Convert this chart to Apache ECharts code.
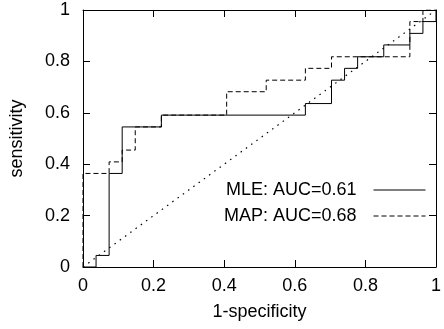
<!DOCTYPE html>
<html>
<head>
<meta charset="utf-8">
<script src="https://cdn.jsdelivr.net/npm/echarts@6/dist/echarts.min.js"></script>
<style>html,body{margin:0;padding:0;background:#fff}#c{width:444px;height:329px}</style>
</head>
<body>
<div id="c"></div>
<script>
var xTicks = [0, 0.2, 0.4, 0.6, 0.8, 1];
var yTicks = [0, 0.2, 0.4, 0.6, 0.8, 1];
var mleName = 'MLE: AUC=0.61';
var mapName = 'MAP: AUC=0.68';
var mleX = [0, 0.037, 0.037, 0.074, 0.074, 0.111, 0.111, 0.222, 0.222, 0.630, 0.630, 0.704, 0.704, 0.741, 0.741, 0.778, 0.778, 0.852, 0.852, 0.926, 0.926, 0.963, 0.963, 1, 1];
var mleY = [0, 0, 0.045, 0.045, 0.364, 0.364, 0.545, 0.545, 0.591, 0.591, 0.636, 0.636, 0.727, 0.727, 0.773, 0.773, 0.818, 0.818, 0.864, 0.864, 0.909, 0.909, 0.955, 0.955, 1];
var mapX = [0, 0, 0.074, 0.074, 0.111, 0.111, 0.148, 0.148, 0.222, 0.222, 0.407, 0.407, 0.519, 0.519, 0.630, 0.630, 0.704, 0.704, 0.926, 0.926, 0.963, 0.963, 1];
var mapY = [0, 0.364, 0.364, 0.409, 0.409, 0.455, 0.455, 0.545, 0.545, 0.591, 0.591, 0.682, 0.682, 0.727, 0.727, 0.773, 0.773, 0.818, 0.818, 0.955, 0.955, 1, 1];
var diagX = [0, 1];
var diagY = [0, 1];

function zip(a, b) { return a.map(function (v, i) { return [v, b[i]]; }); }
var FONT = 'Liberation Sans, Arial, sans-serif';
var FS = 18;
function axisBase(pos, showLabel, ticks) {
  return {
    type: 'value', position: pos, min: ticks[0], max: ticks[ticks.length - 1],
    interval: ticks[1] - ticks[0],
    splitLine: { show: false },
    axisLine: { show: true, onZero: false, lineStyle: { color: '#000', width: 1 } },
    axisTick: { show: true, inside: true, length: 7, lineStyle: { color: '#000', width: 1 } },
    axisLabel: { show: showLabel, color: '#000', fontFamily: FONT, fontSize: FS }
  };
}
var x0 = axisBase('bottom', true, xTicks);
x0.axisLabel.margin = 10;
x0.name = '1-specificity'; x0.nameLocation = 'middle'; x0.nameGap = 36;
x0.nameTextStyle = { color: '#000', fontFamily: FONT, fontSize: FS };
var x1 = axisBase('top', false, xTicks);
var y0 = axisBase('left', true, yTicks);
y0.axisLabel.margin = 13;
y0.name = 'sensitivity'; y0.nameLocation = 'middle'; y0.nameGap = 57;
y0.nameTextStyle = { color: '#000', fontFamily: FONT, fontSize: FS };
var y1 = axisBase('right', false, yTicks);

var chart = echarts.init(document.getElementById('c'), null, { renderer: 'canvas' });
chart.setOption({
  animation: false,
  backgroundColor: '#fff',
  grid: { left: 80, right: 1, top: 10, bottom: 62, containLabel: false },
  xAxis: [x0, x1],
  yAxis: [y0, y1],
  legend: {
    data: [mleName, mapName], orient: 'vertical', align: 'right',
    right: 18, top: 181, padding: 0, itemWidth: 52, itemHeight: 14, itemGap: 8,
    itemStyle: { opacity: 0 },
    lineStyle: { width: 1 },
    textStyle: { color: '#000', fontFamily: FONT, fontSize: FS, padding: [0, 12, 0, 0] }
  },
  series: [
    { name: 'diag', type: 'line', data: zip(diagX, diagY), symbol: 'none', silent: true,
      lineStyle: { color: '#000', width: 1.2, type: [1.5, 5] } },
    { name: mapName, type: 'line', data: zip(mapX, mapY), symbol: 'none',
      lineStyle: { color: '#000', width: 1, type: [5, 3] } },
    { name: mleName, type: 'line', data: zip(mleX, mleY), symbol: 'none',
      lineStyle: { color: '#000', width: 1, type: 'solid' } }
  ]
});
</script>
</body>
</html>
